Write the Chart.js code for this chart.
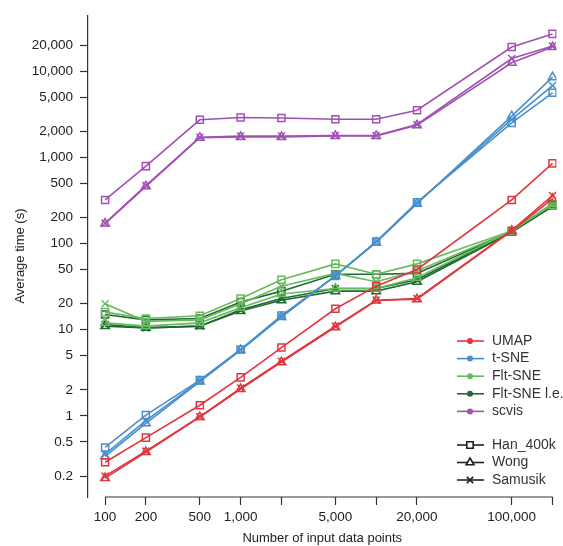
<!DOCTYPE html>
<html>
<head>
<meta charset="utf-8">
<script src="https://cdn.jsdelivr.net/npm/chart.js@4.4.1/dist/chart.umd.min.js"></script>
<style>
  html, body { margin: 0; padding: 0; background: #fff; }
  #wrap { width: 563px; height: 546px; }
</style>
</head>
<body>
<div id="wrap"><canvas id="myChart" width="563" height="546"></canvas></div>
<script>
// x categories and tick labels
var inputPoints = [100, 200, 500, 1000, 2000, 5000, 10000, 20000, 100000, 200000];
var xTickLabels = ['100', '200', '500', '1,000', '', '5,000', '', '20,000', '100,000', ''];
var yTickValues = [0.2, 0.5, 1, 2, 5, 10, 20, 50, 100, 200, 500, 1000, 2000, 5000, 10000, 20000];

var methods = ['UMAP', 't-SNE', 'Flt-SNE', 'Flt-SNE l.e.', 'scvis'];
var dataNames = ['Han_400k', 'Wong', 'Samusik'];

// UMAP
var umapHan     = [0.29, 0.56, 1.33, 2.8, 6.2, 17.5, 32, 50, 320, 850];
var umapWong    = [0.19, 0.38, 0.97, 2.05, 4.2, 10.7, 21.8, 22.5, 140, 330];
var umapSamusik = [0.2, 0.39, 0.98, 2.1, 4.3, 11, 22, 23, 142, 360];
// t-SNE
var tsneHan     = [0.43, 1.02, 2.6, 5.9, 14.6, 42, 105, 300, 2500, 5600];
var tsneWong    = [0.34, 0.82, 2.5, 5.8, 14, 42, 103, 290, 3000, 8500];
var tsneSamusik = [0.36, 0.88, 2.55, 5.8, 14.2, 42, 104, 295, 2750, 6800];
// Flt-SNE
var fltHan      = [16, 13.5, 14.5, 23, 38, 58, 44, 58, 140, 280];
var fltWong     = [12, 11, 12, 18, 26, 30, 30, 40, 140, 290];
var fltSamusik  = [20, 12.5, 13, 20, 32, 45, 36, 48, 140, 290];
// Flt-SNE l.e.
var fltleHan     = [15, 13, 13.5, 21, 28, 44, 44, 45, 138, 280];
var fltleWong    = [11, 10.5, 11, 16.5, 22, 28, 28, 36, 135, 270];
var fltleSamusik = [11.5, 10.5, 11, 17, 23, 30, 30, 38, 138, 270];
// scvis
var scvisHan     = [320, 790, 2720, 2890, 2860, 2760, 2760, 3520, 19000, 27000];
var scvisWong    = [170, 460, 1690, 1720, 1720, 1770, 1770, 2350, 12500, 19000];
var scvisSamusik = [172, 470, 1710, 1760, 1760, 1790, 1790, 2400, 14000, 19500];

var methodColors = ['#e0373e', '#4a8fcc', '#68bb5d', '#1e6b34', '#a052b2'];
var pointShapes = ['rect', 'triangle', 'crossRot'];

var seriesByMethod = [
    [umapHan, umapWong, umapSamusik],
    [tsneHan, tsneWong, tsneSamusik],
    [fltHan, fltWong, fltSamusik],
    [fltleHan, fltleWong, fltleSamusik],
    [scvisHan, scvisWong, scvisSamusik]
];

var FONT = '"Liberation Sans", Arial, sans-serif';

var datasets = [];
seriesByMethod.forEach(function (group, m) {
    group.forEach(function (vals, d) {
        datasets.push({
            label: methods[m] + ' ' + dataNames[d],
            data: inputPoints.map(function (x, k) { return { x: x, y: vals[k] }; }),
            borderColor: methodColors[m],
            borderWidth: 1.6,
            pointStyle: pointShapes[d],
            pointRadius: 5,
            pointBorderWidth: 1.5,
            pointBorderColor: methodColors[m],
            pointBackgroundColor: 'rgba(255,255,255,0)',
            fill: false,
            tension: 0
        });
    });
});

// x axis line only spans the first to last tick
var xAxisLine = {
    id: 'xAxisLine',
    afterDraw: function (chart) {
        var sx = chart.scales.x, c = chart.ctx;
        var y = chart.chartArea.bottom;
        c.save();
        c.strokeStyle = '#333';
        c.lineWidth = 1.2;
        c.beginPath();
        c.moveTo(sx.getPixelForValue(inputPoints[0]), y);
        c.lineTo(sx.getPixelForValue(inputPoints[inputPoints.length - 1]), y);
        c.stroke();
        c.restore();
    }
};

// legend drawn inside the plot, bottom right
var cornerLegend = {
    id: 'cornerLegend',
    afterDraw: function (chart) {
        var ctx = chart.ctx;
        ctx.save();
        ctx.font = '14px ' + FONT;
        ctx.textBaseline = 'middle';
        ctx.textAlign = 'left';
        methods.forEach(function (name, i) {
            var y = 341 + i * 17.6;
            ctx.strokeStyle = methodColors[i];
            ctx.lineWidth = 1.6;
            ctx.beginPath(); ctx.moveTo(457, y); ctx.lineTo(484, y); ctx.stroke();
            ctx.fillStyle = methodColors[i];
            ctx.beginPath(); ctx.arc(470, y, 3, 0, Math.PI * 2); ctx.fill();
            ctx.fillStyle = '#333';
            ctx.fillText(name, 492, y);
        });
        dataNames.forEach(function (name, i) {
            var y = 445 + i * 17.5;
            ctx.strokeStyle = '#222';
            ctx.lineWidth = 1.6;
            ctx.beginPath(); ctx.moveTo(457, y); ctx.lineTo(484, y); ctx.stroke();
            ctx.fillStyle = '#fff';
            Chart.helpers.drawPoint(ctx, { pointStyle: pointShapes[i], radius: 4.5, borderWidth: 1.6, rotation: 0 }, 470, y);
            ctx.fillStyle = '#333';
            ctx.fillText(name, 492, y);
        });
        ctx.restore();
    }
};

var ctx = document.getElementById('myChart').getContext('2d');
var chart = new Chart(ctx, {
    type: 'line',
    data: { datasets: datasets },
    plugins: [xAxisLine, cornerLegend],
    options: {
        responsive: false,
        animation: false,
        layout: { padding: { top: 14, right: 6, left: 0, bottom: 0 } },
        plugins: { legend: { display: false }, tooltip: { enabled: false } },
        scales: {
            x: {
                type: 'logarithmic',
                min: 74.8,
                max: 214000,
                afterBuildTicks: function (scale) {
                    scale.ticks = inputPoints.map(function (v) { return { value: v }; });
                },
                afterFit: function (scale) { scale.height = 49; },
                ticks: {
                    autoSkip: false,
                    maxRotation: 0,
                    padding: 4,
                    color: '#222',
                    font: { family: FONT, size: 13.5 },
                    callback: function (v, i) { return xTickLabels[i]; }
                },
                grid: { display: true, drawOnChartArea: false, drawTicks: true, tickLength: 8, color: '#333', tickWidth: 1.2 },
                border: { display: false },
                title: {
                    display: true,
                    text: 'Number of input data points',
                    color: '#222',
                    font: { family: FONT, size: 13 },
                    padding: { top: 0, bottom: 0 }
                }
            },
            y: {
                type: 'logarithmic',
                min: 0.1146,
                max: 44600,
                afterBuildTicks: function (scale) {
                    scale.ticks = yTickValues.map(function (v) { return { value: v }; });
                },
                afterFit: function (scale) { scale.width = 88; },
                ticks: {
                    autoSkip: false,
                    padding: 7,
                    color: '#222',
                    font: { family: FONT, size: 13.5 },
                    callback: function (v) { return Number(v).toLocaleString('en-US'); }
                },
                grid: { display: true, drawOnChartArea: false, drawTicks: true, tickLength: 8, color: '#333', tickWidth: 1.2 },
                border: { display: true, color: '#333', width: 1.2 },
                title: {
                    display: true,
                    text: 'Average time (s)',
                    color: '#222',
                    font: { family: FONT, size: 13 },
                    padding: { top: 13, bottom: 0 }
                }
            }
        }
    }
});
</script>
</body>
</html>
